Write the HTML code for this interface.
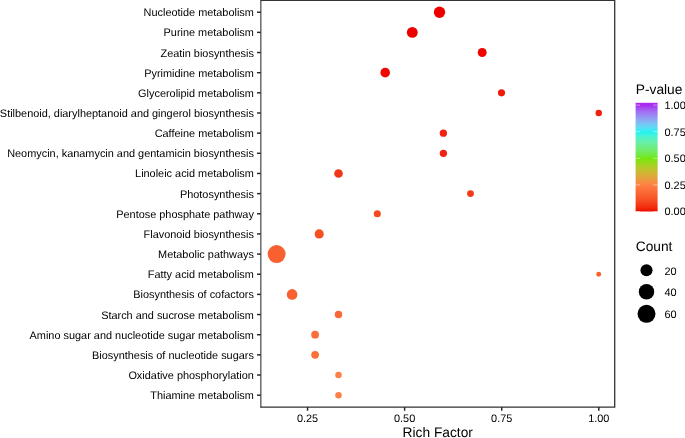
<!DOCTYPE html>
<html><head><meta charset="utf-8"><title>KEGG enrichment bubble plot</title>
<style>
html,body{margin:0;padding:0;background:#fff;}
body{width:685px;height:438px;overflow:hidden;}
svg{display:block;mix-blend-mode:multiply;}
text{font-family:"Liberation Sans",sans-serif;fill:#000;text-rendering:geometricPrecision;}
.ax{font-size:10.92px;}
.tt{font-size:13.75px;}
</style></head><body>
<svg width="685" height="438" viewBox="0 0 685 438">
<rect x="0" y="0" width="685" height="438" fill="#ffffff"/>
<defs><linearGradient id="g" x1="0" y1="1" x2="0" y2="0">
<stop offset="0.0000" stop-color="#EE0800"/>
<stop offset="0.0250" stop-color="#F02408"/>
<stop offset="0.0500" stop-color="#F23411"/>
<stop offset="0.0750" stop-color="#F44119"/>
<stop offset="0.1000" stop-color="#F64C20"/>
<stop offset="0.1250" stop-color="#F85626"/>
<stop offset="0.1500" stop-color="#FA5F2D"/>
<stop offset="0.1750" stop-color="#FB6833"/>
<stop offset="0.2000" stop-color="#FD713A"/>
<stop offset="0.2250" stop-color="#FE7940"/>
<stop offset="0.2500" stop-color="#FD8244"/>
<stop offset="0.2750" stop-color="#F39041"/>
<stop offset="0.3000" stop-color="#E99D3D"/>
<stop offset="0.3250" stop-color="#DEA939"/>
<stop offset="0.3500" stop-color="#D2B335"/>
<stop offset="0.3750" stop-color="#C5BE30"/>
<stop offset="0.4000" stop-color="#B7C82A"/>
<stop offset="0.4250" stop-color="#A7D123"/>
<stop offset="0.4500" stop-color="#95DA1A"/>
<stop offset="0.4750" stop-color="#7FE30D"/>
<stop offset="0.5000" stop-color="#71E822"/>
<stop offset="0.5250" stop-color="#72EA45"/>
<stop offset="0.5500" stop-color="#72EB5E"/>
<stop offset="0.5750" stop-color="#70EC75"/>
<stop offset="0.6000" stop-color="#6DED8A"/>
<stop offset="0.6250" stop-color="#68EF9F"/>
<stop offset="0.6500" stop-color="#61F0B3"/>
<stop offset="0.6750" stop-color="#55F1C6"/>
<stop offset="0.7000" stop-color="#44F3DA"/>
<stop offset="0.7250" stop-color="#23F4EE"/>
<stop offset="0.7500" stop-color="#3EEAF5"/>
<stop offset="0.7750" stop-color="#60D9F5"/>
<stop offset="0.8000" stop-color="#74C8F5"/>
<stop offset="0.8250" stop-color="#83B6F4"/>
<stop offset="0.8500" stop-color="#8EA4F4"/>
<stop offset="0.8750" stop-color="#9791F3"/>
<stop offset="0.9000" stop-color="#9D7EF3"/>
<stop offset="0.9250" stop-color="#A268F2"/>
<stop offset="0.9500" stop-color="#A550F1"/>
<stop offset="0.9750" stop-color="#A82FF0"/>
<stop offset="1.0000" stop-color="#A828F0"/>
</linearGradient></defs>
<circle cx="439.5" cy="12.22" r="5.67" fill="#EE0000"/>
<circle cx="412.3" cy="32.38" r="5.42" fill="#EE0000"/>
<circle cx="482.2" cy="52.53" r="4.47" fill="#EE0500"/>
<circle cx="385.2" cy="72.69" r="4.82" fill="#EE0800"/>
<circle cx="501.5" cy="92.84" r="3.57" fill="#EE1A0A"/>
<circle cx="598.75" cy="113.00" r="3.22" fill="#F0200C"/>
<circle cx="443.4" cy="133.15" r="3.67" fill="#F02212"/>
<circle cx="443.4" cy="153.31" r="3.67" fill="#F02212"/>
<circle cx="338.5" cy="173.46" r="4.32" fill="#F03818"/>
<circle cx="470.5" cy="193.62" r="3.42" fill="#F43A18"/>
<circle cx="377.3" cy="213.77" r="3.57" fill="#F44A20"/>
<circle cx="319.2" cy="233.93" r="4.59" fill="#F45020"/>
<circle cx="276.6" cy="254.08" r="8.97" fill="#F86030"/>
<circle cx="598.7" cy="274.24" r="2.42" fill="#F86028"/>
<circle cx="292.1" cy="294.39" r="5.32" fill="#F86030"/>
<circle cx="338.5" cy="314.55" r="3.72" fill="#F86838"/>
<circle cx="315.1" cy="334.70" r="3.87" fill="#FA7038"/>
<circle cx="315.1" cy="354.86" r="3.87" fill="#FA7038"/>
<circle cx="338.5" cy="375.01" r="3.27" fill="#FC8048"/>
<circle cx="338.5" cy="395.17" r="3.27" fill="#FC8048"/>
<path d="M260.63 0.35H614.7V407.1H260.63" fill="none" stroke="#333333" stroke-width="1.3" stroke-linejoin="miter"/>
<line x1="260.84999999999997" x2="260.84999999999997" y1="-0.30000000000000004" y2="407.75" stroke="#3d3d3d" stroke-width="1.15"/>
<line x1="257.0" x2="260.83" y1="12.22" y2="12.22" stroke="#262626" stroke-width="1.45"/>
<text class="ax" x="253.9" y="16.22" text-anchor="end">Nucleotide metabolism</text>
<line x1="257.0" x2="260.83" y1="32.38" y2="32.38" stroke="#262626" stroke-width="1.45"/>
<text class="ax" x="253.9" y="36.38" text-anchor="end">Purine metabolism</text>
<line x1="257.0" x2="260.83" y1="52.53" y2="52.53" stroke="#262626" stroke-width="1.45"/>
<text class="ax" x="253.9" y="56.53" text-anchor="end">Zeatin biosynthesis</text>
<line x1="257.0" x2="260.83" y1="72.69" y2="72.69" stroke="#262626" stroke-width="1.45"/>
<text class="ax" x="253.9" y="76.69" text-anchor="end">Pyrimidine metabolism</text>
<line x1="257.0" x2="260.83" y1="92.84" y2="92.84" stroke="#262626" stroke-width="1.45"/>
<text class="ax" x="253.9" y="96.84" text-anchor="end">Glycerolipid metabolism</text>
<line x1="257.0" x2="260.83" y1="113.00" y2="113.00" stroke="#262626" stroke-width="1.45"/>
<text class="ax" x="253.9" y="117.00" text-anchor="end">Stilbenoid, diarylheptanoid and gingerol biosynthesis</text>
<line x1="257.0" x2="260.83" y1="133.15" y2="133.15" stroke="#262626" stroke-width="1.45"/>
<text class="ax" x="253.9" y="137.15" text-anchor="end">Caffeine metabolism</text>
<line x1="257.0" x2="260.83" y1="153.31" y2="153.31" stroke="#262626" stroke-width="1.45"/>
<text class="ax" x="253.9" y="157.31" text-anchor="end">Neomycin, kanamycin and gentamicin biosynthesis</text>
<line x1="257.0" x2="260.83" y1="173.46" y2="173.46" stroke="#262626" stroke-width="1.45"/>
<text class="ax" x="253.9" y="177.46" text-anchor="end">Linoleic acid metabolism</text>
<line x1="257.0" x2="260.83" y1="193.62" y2="193.62" stroke="#262626" stroke-width="1.45"/>
<text class="ax" x="253.9" y="197.62" text-anchor="end">Photosynthesis</text>
<line x1="257.0" x2="260.83" y1="213.77" y2="213.77" stroke="#262626" stroke-width="1.45"/>
<text class="ax" x="253.9" y="217.77" text-anchor="end">Pentose phosphate pathway</text>
<line x1="257.0" x2="260.83" y1="233.93" y2="233.93" stroke="#262626" stroke-width="1.45"/>
<text class="ax" x="253.9" y="237.93" text-anchor="end">Flavonoid biosynthesis</text>
<line x1="257.0" x2="260.83" y1="254.08" y2="254.08" stroke="#262626" stroke-width="1.45"/>
<text class="ax" x="253.9" y="258.08" text-anchor="end">Metabolic pathways</text>
<line x1="257.0" x2="260.83" y1="274.24" y2="274.24" stroke="#262626" stroke-width="1.45"/>
<text class="ax" x="253.9" y="278.24" text-anchor="end">Fatty acid metabolism</text>
<line x1="257.0" x2="260.83" y1="294.39" y2="294.39" stroke="#262626" stroke-width="1.45"/>
<text class="ax" x="253.9" y="298.39" text-anchor="end">Biosynthesis of cofactors</text>
<line x1="257.0" x2="260.83" y1="314.55" y2="314.55" stroke="#262626" stroke-width="1.45"/>
<text class="ax" x="253.9" y="318.55" text-anchor="end">Starch and sucrose metabolism</text>
<line x1="257.0" x2="260.83" y1="334.70" y2="334.70" stroke="#262626" stroke-width="1.45"/>
<text class="ax" x="253.9" y="338.70" text-anchor="end">Amino sugar and nucleotide sugar metabolism</text>
<line x1="257.0" x2="260.83" y1="354.86" y2="354.86" stroke="#262626" stroke-width="1.45"/>
<text class="ax" x="253.9" y="358.86" text-anchor="end">Biosynthesis of nucleotide sugars</text>
<line x1="257.0" x2="260.83" y1="375.01" y2="375.01" stroke="#262626" stroke-width="1.45"/>
<text class="ax" x="253.9" y="379.01" text-anchor="end">Oxidative phosphorylation</text>
<line x1="257.0" x2="260.83" y1="395.17" y2="395.17" stroke="#262626" stroke-width="1.45"/>
<text class="ax" x="253.9" y="399.17" text-anchor="end">Thiamine metabolism</text>
<line x1="307.55" x2="307.55" y1="407.1" y2="410.75" stroke="#262626" stroke-width="1.45"/>
<text class="ax" x="307.55" y="421.7" text-anchor="middle">0.25</text>
<line x1="404.63" x2="404.63" y1="407.1" y2="410.75" stroke="#262626" stroke-width="1.45"/>
<text class="ax" x="404.63" y="421.7" text-anchor="middle">0.50</text>
<line x1="501.72" x2="501.72" y1="407.1" y2="410.75" stroke="#262626" stroke-width="1.45"/>
<text class="ax" x="501.72" y="421.7" text-anchor="middle">0.75</text>
<line x1="598.80" x2="598.80" y1="407.1" y2="410.75" stroke="#262626" stroke-width="1.45"/>
<text class="ax" x="598.80" y="421.7" text-anchor="middle">1.00</text>
<text class="tt" x="437.76" y="437.3" text-anchor="middle">Rich Factor</text>
<text class="tt" x="635.75" y="94.3">P-value</text>
<rect x="635.6" y="102.8" width="22" height="108.70" fill="url(#g)"/>
<line x1="635.6" x2="640" y1="211.50" y2="211.50" stroke="#fff" stroke-width="0.6" stroke-opacity="0.8"/>
<line x1="653.2" x2="657.6" y1="211.50" y2="211.50" stroke="#fff" stroke-width="0.6" stroke-opacity="0.8"/>
<text class="ax" x="664.5" y="215.45">0.00</text>
<line x1="635.6" x2="640" y1="184.90" y2="184.90" stroke="#fff" stroke-width="0.6" stroke-opacity="0.8"/>
<line x1="653.2" x2="657.6" y1="184.90" y2="184.90" stroke="#fff" stroke-width="0.6" stroke-opacity="0.8"/>
<text class="ax" x="664.5" y="188.85">0.25</text>
<line x1="635.6" x2="640" y1="158.30" y2="158.30" stroke="#fff" stroke-width="0.6" stroke-opacity="0.8"/>
<line x1="653.2" x2="657.6" y1="158.30" y2="158.30" stroke="#fff" stroke-width="0.6" stroke-opacity="0.8"/>
<text class="ax" x="664.5" y="162.25">0.50</text>
<line x1="635.6" x2="640" y1="131.70" y2="131.70" stroke="#fff" stroke-width="0.6" stroke-opacity="0.8"/>
<line x1="653.2" x2="657.6" y1="131.70" y2="131.70" stroke="#fff" stroke-width="0.6" stroke-opacity="0.8"/>
<text class="ax" x="664.5" y="135.65">0.75</text>
<line x1="635.6" x2="640" y1="105.10" y2="105.10" stroke="#fff" stroke-width="0.6" stroke-opacity="0.8"/>
<line x1="653.2" x2="657.6" y1="105.10" y2="105.10" stroke="#fff" stroke-width="0.6" stroke-opacity="0.8"/>
<text class="ax" x="664.5" y="109.05">1.00</text>
<text class="tt" x="635.75" y="251.2">Count</text>
<circle cx="646.5" cy="270.2" r="6.05" fill="#000"/>
<text class="ax" x="664.5" y="274.55">20</text>
<circle cx="646.5" cy="291.7" r="7.75" fill="#000"/>
<text class="ax" x="664.5" y="296.05">40</text>
<circle cx="646.5" cy="313.8" r="9.0" fill="#000"/>
<text class="ax" x="664.5" y="318.15">60</text>
</svg></body></html>
